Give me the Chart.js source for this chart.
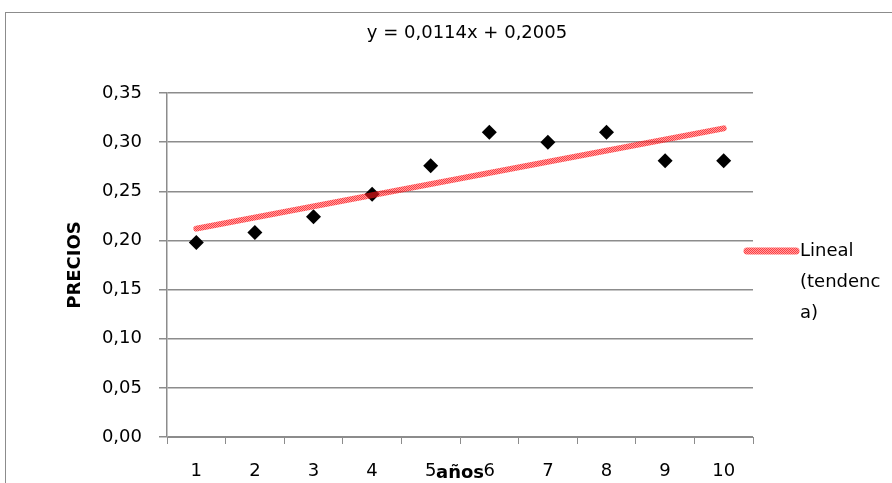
<!doctype html>
<html lang="es">
  <head>
    <meta charset="utf-8">
    <title>Precios por año</title>
    <style>
      * { margin: 0; padding: 0; }
      body { background: #fff; }
      .chartBox { width: 892px; height: 483px; }
    </style>
  </head>
  <body>
    <div class="chartBox">
      <canvas id="myChart"></canvas>
    </div>
    <script src="https://cdn.jsdelivr.net/npm/chart.js/dist/chart.umd.min.js"></script>
    <script>
    // data
    const years = ['1', '2', '3', '4', '5', '6', '7', '8', '9', '10'];
    const precios = [0.198, 0.208, 0.224, 0.247, 0.276, 0.310, 0.300, 0.310, 0.281, 0.281];
    const trend = [0.212, null, null, null, null, null, null, null, null, 0.314];
    const yTickLabels = ['0,00', '0,05', '0,10', '0,15', '0,20', '0,25', '0,30', '0,35'];
    const chartTitle = 'y = 0,0114x + 0,2005';
    const legendLines = ['Lineal', '(tendenc', 'a)'];

    const FONT = "'DejaVu Sans', sans-serif";
    const GREY = '#8c8c8c';

    // dotted red texture like the excel trend line
    function redTexture() {
      const c = document.createElement('canvas');
      c.width = 2; c.height = 2;
      const g = c.getContext('2d');
      g.fillStyle = 'rgba(255, 0, 0, 0.75)';
      g.fillRect(0, 0, 2, 2);
      g.clearRect(1, 0, 1, 1);
      g.clearRect(0, 1, 1, 1);
      g.fillStyle = 'rgba(255, 60, 70, 0.5)';
      g.fillRect(1, 0, 1, 1);
      g.fillRect(0, 1, 1, 1);
      return g.createPattern(c, 'repeat');
    }
    const redPattern = redTexture();

    // titles, frame and legend
    const extras = {
      id: 'extras',
      afterDraw(chart) {
        const { ctx, chartArea: { left, right, top, bottom } } = chart;
        ctx.save();
        ctx.strokeStyle = GREY;
        ctx.lineWidth = 1;
        ctx.strokeRect(5.5, 12.5, 1000, 1000);

        ctx.fillStyle = '#000';
        ctx.textAlign = 'center';
        ctx.textBaseline = 'middle';
        ctx.font = '18px ' + FONT;
        ctx.fillText(chartTitle, 467, 33);

        ctx.font = 'bold 18px ' + FONT;
        ctx.fillText('años', (left + right) / 2, 473);

        ctx.save();
        ctx.translate(75, (top + bottom) / 2);
        ctx.rotate(-Math.PI / 2);
        ctx.fillText('PRECIOS', 0, 0);
        ctx.restore();

        // legend
        ctx.strokeStyle = redPattern;
        ctx.lineWidth = 7;
        ctx.lineCap = 'round';
        ctx.beginPath();
        ctx.moveTo(747, 251);
        ctx.lineTo(796, 251);
        ctx.stroke();
        ctx.font = '18px ' + FONT;
        ctx.textAlign = 'left';
        legendLines.forEach((t, i) => ctx.fillText(t, 800, 251 + i * 31));
        ctx.restore();
      }
    };

    const data = {
      labels: years,
      datasets: [{
        label: 'Lineal (tendencia)',
        data: trend,
        spanGaps: true,
        borderColor: redPattern,
        borderWidth: 6,
        borderCapStyle: 'round',
        pointRadius: 0,
        order: 1
      }, {
        label: 'Precios',
        data: precios,
        showLine: false,
        pointStyle: 'rectRot',
        pointRadius: 7.5,
        pointBackgroundColor: '#000',
        pointBorderColor: '#000',
        pointBorderWidth: 0,
        order: 2
      }]
    };

    const config = {
      type: 'line',
      data,
      options: {
        responsive: true,
        maintainAspectRatio: false,
        animation: false,
        layout: { padding: { top: 93, right: 139, left: 0, bottom: 0 } },
        scales: {
          x: {
            offset: true,
            grid: { offset: true, drawOnChartArea: false, tickLength: 7, color: GREY },
            border: { color: GREY, width: 1 },
            ticks: { color: '#000', font: { family: FONT, size: 18 }, padding: 17, maxRotation: 0 },
            afterFit: (s) => { s.height = 46; }
          },
          y: {
            min: 0,
            max: 0.35,
            ticks: {
              stepSize: 0.05,
              color: '#000',
              font: { family: FONT, size: 18 },
              padding: 17,
              callback: (v, i) => yTickLabels[i]
            },
            grid: { color: GREY, lineWidth: 1.5, tickLength: 8 },
            border: { color: GREY, width: 1.5 },
            afterFit: (s) => { s.width = 167; }
          }
        },
        plugins: {
          legend: { display: false },
          tooltip: { enabled: false }
        }
      },
      plugins: [extras]
    };

    const myChart = new Chart(document.getElementById('myChart'), config);
    </script>
  </body>
</html>
